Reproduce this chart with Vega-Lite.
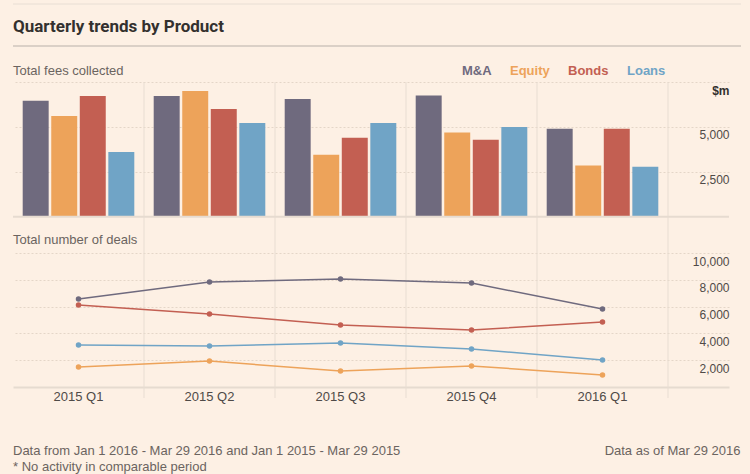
{
  "$schema": "https://vega.github.io/schema/vega-lite/v6.json",
  "background": "#fdf0e4",
  "padding": {"left": 12, "top": 3, "right": 10, "bottom": 2},
  "spacing": 0,
  "bounds": "flush",
  "config": {
    "view": {"stroke": null},
    "font": "Liberation Sans",
    "axis": {"labelFont": "Liberation Sans", "titleFont": "Liberation Sans"}
  },
  "resolve": {"scale": {"color": "independent", "x": "independent", "y": "independent"}, "legend": {"color": "independent"}},
  "datasets": {
    "quarters": [
      {"q": "2015 Q1"}, {"q": "2015 Q2"}, {"q": "2015 Q3"}, {"q": "2015 Q4"}, {"q": "2016 Q1"}
    ],
    "fees": [
      {"q": "2015 Q1", "p": "M&A", "v": 6450},
      {"q": "2015 Q1", "p": "Equity", "v": 5600},
      {"q": "2015 Q1", "p": "Bonds", "v": 6720},
      {"q": "2015 Q1", "p": "Loans", "v": 3600},
      {"q": "2015 Q2", "p": "M&A", "v": 6720},
      {"q": "2015 Q2", "p": "Equity", "v": 7000},
      {"q": "2015 Q2", "p": "Bonds", "v": 6000},
      {"q": "2015 Q2", "p": "Loans", "v": 5220},
      {"q": "2015 Q3", "p": "M&A", "v": 6560},
      {"q": "2015 Q3", "p": "Equity", "v": 3450},
      {"q": "2015 Q3", "p": "Bonds", "v": 4390},
      {"q": "2015 Q3", "p": "Loans", "v": 5220},
      {"q": "2015 Q4", "p": "M&A", "v": 6750},
      {"q": "2015 Q4", "p": "Equity", "v": 4690},
      {"q": "2015 Q4", "p": "Bonds", "v": 4280},
      {"q": "2015 Q4", "p": "Loans", "v": 5000},
      {"q": "2016 Q1", "p": "M&A", "v": 4890},
      {"q": "2016 Q1", "p": "Equity", "v": 2850},
      {"q": "2016 Q1", "p": "Bonds", "v": 4890},
      {"q": "2016 Q1", "p": "Loans", "v": 2780}
    ],
    "deals": [
      {"q": "2015 Q1", "p": "M&A", "v": 6570},
      {"q": "2015 Q2", "p": "M&A", "v": 7840},
      {"q": "2015 Q3", "p": "M&A", "v": 8060},
      {"q": "2015 Q4", "p": "M&A", "v": 7760},
      {"q": "2016 Q1", "p": "M&A", "v": 5820},
      {"q": "2015 Q1", "p": "Equity", "v": 1490},
      {"q": "2015 Q2", "p": "Equity", "v": 1940},
      {"q": "2015 Q3", "p": "Equity", "v": 1190},
      {"q": "2015 Q4", "p": "Equity", "v": 1570},
      {"q": "2016 Q1", "p": "Equity", "v": 900},
      {"q": "2015 Q1", "p": "Bonds", "v": 6120},
      {"q": "2015 Q2", "p": "Bonds", "v": 5450},
      {"q": "2015 Q3", "p": "Bonds", "v": 4630},
      {"q": "2015 Q4", "p": "Bonds", "v": 4250},
      {"q": "2016 Q1", "p": "Bonds", "v": 4850},
      {"q": "2015 Q1", "p": "Loans", "v": 3130},
      {"q": "2015 Q2", "p": "Loans", "v": 3060},
      {"q": "2015 Q3", "p": "Loans", "v": 3280},
      {"q": "2015 Q4", "p": "Loans", "v": 2840},
      {"q": "2016 Q1", "p": "Loans", "v": 2020}
    ],
    "label": [{"q": "2015 Q1", "t": "Total number of deals"}]
  },
  "vconcat": [
    {
      "width": 728,
      "height": 54,
      "title": {"text": "Quarterly trends by Product", "anchor": "start", "frame": "group", "orient": "top", "offset": -32, "font": "Roboto", "fontSize": 17, "fontWeight": "bold", "color": "#33302e"},
      "data": {"values": [{}]},
      "layer": [
        {"mark": {"type": "rule", "color": "#e8ded4", "strokeWidth": 1}, "encoding": {"y": {"datum": 78, "type": "quantitative", "scale": {"domain": [0, 54], "nice": false, "zero": false}, "axis": null}}},
        {"mark": {"type": "rule", "color": "#b8b0a9", "strokeWidth": 1}, "encoding": {"y": {"datum": 36, "type": "quantitative", "axis": null}}}
      ]
    },
    {
      "width": 716,
      "height": 167,
      "title": {"text": "Total fees collected", "anchor": "start", "frame": "group", "orient": "top", "offset": -14, "font": "Liberation Sans", "fontSize": 13, "fontWeight": "normal", "color": "#6b6460"},
      "layer": [
        {
          "data": {"name": "quarters"},
          "mark": {"type": "rule", "color": "#e8ddd2", "strokeWidth": 1},
          "encoding": {
            "x": {"field": "q", "type": "nominal", "bandPosition": 1, "scale": {"type": "band", "domain": ["2015 Q1", "2015 Q2", "2015 Q3", "2015 Q4", "2016 Q1"], "paddingInner": 0, "paddingOuter": 0.2328, "align": 0}, "axis": null}
          }
        },
        {
          "data": {"name": "fees"},
          "mark": {"type": "bar"},
          "encoding": {
            "x": {"field": "q", "type": "nominal", "axis": null},
            "xOffset": {"field": "p", "type": "nominal", "scale": {"domain": ["M&A", "Equity", "Bonds", "Loans"], "paddingInner": 0.09, "paddingOuter": 0.34}},
            "y": {
              "field": "v", "type": "quantitative",
              "scale": {"domain": [-1800, 7500], "nice": false, "zero": false},
              "axis": {
                "orient": "right", "values": [2500, 5000, 7500], "title": null,
                "labelExpr": "datum.value == 7500 ? '$m' : format(datum.value, ',')",
                "labelFontWeight": {"condition": {"test": "datum.value == 7500", "value": "bold"}, "value": "normal"},
                "labelColor": {"condition": {"test": "datum.value == 7500", "value": "#33302e"}, "value": "#4f4a47"},
                "labelFontSize": 12, "labelAlign": "right", "labelBaseline": "top", "labelPadding": 0, "labelOffset": 3,
                "ticks": false, "tickSize": 0, "domain": false,
                "grid": true, "gridDash": [2, 2], "gridColor": "#e4d6c8", "gridWidth": 1
              }
            },
            "color": {
              "field": "p", "type": "nominal",
              "scale": {"domain": ["M&A", "Equity", "Bonds", "Loans"], "range": ["#6f6a7e", "#eda35a", "#c35f52", "#70a4c6"]},
              "legend": {
                "orient": "none", "legendX": 436, "legendY": -18, "direction": "horizontal", "title": null,
                "symbolSize": 0, "symbolOpacity": 0, "symbolStrokeWidth": 0, "labelOffset": 0, "columnPadding": 5, "padding": 0,
                "labelFont": "Liberation Sans", "labelFontSize": 13, "labelFontWeight": "bold",
                "encode": {"labels": {"update": {"fill": {"signal": "datum.value == 'M&A' ? '#6f6a7e' : datum.value == 'Equity' ? '#eda35a' : datum.value == 'Bonds' ? '#c35f52' : '#70a4c6'"}}}}
              }
            }
          }
        },
        {
          "data": {"values": [{}]},
          "mark": {"type": "rule", "color": "#e6dbd0", "strokeWidth": 2},
          "encoding": {"y": {"datum": 0, "type": "quantitative"}}
        },
        {
          "data": {"name": "label"},
          "mark": {"type": "text", "align": "left", "baseline": "middle", "font": "Liberation Sans", "fontSize": 13, "color": "#6b6460"},
          "encoding": {
            "x": {"field": "q", "type": "nominal", "bandPosition": 0, "axis": null},
            "y": {"datum": -1300, "type": "quantitative"},
            "text": {"field": "t"}
          }
        }
      ]
    },
    {
      "width": 716,
      "height": 138,
      "title": {"text": ["Data from Jan 1 2016 - Mar 29 2016 and Jan 1 2015 - Mar 29 2015", "* No activity in comparable period"], "orient": "bottom", "anchor": "start", "frame": "group", "offset": -12, "font": "Liberation Sans", "fontSize": 13, "fontWeight": "normal", "color": "#6b6460", "lineHeight": 16},
      "layer": [
        {
          "data": {"name": "quarters"},
          "mark": {"type": "rule", "color": "#e8ddd2", "strokeWidth": 1},
          "encoding": {
            "x": {"field": "q", "type": "nominal", "bandPosition": 1, "scale": {"type": "band", "domain": ["2015 Q1", "2015 Q2", "2015 Q3", "2015 Q4", "2016 Q1"], "paddingInner": 0, "paddingOuter": 0.2328, "align": 0},
              "axis": {"orient": "bottom", "title": "Data as of Mar 29 2016", "titleAnchor": "end", "titleAlign": "right", "titleX": 727, "titlePadding": 41, "titleFont": "Liberation Sans", "titleFontSize": 13, "titleFontWeight": "normal", "titleColor": "#6b6460", "titleBaseline": "top", "labelFontSize": 13, "labelColor": "#4f4a47", "labelPadding": 3, "labelAngle": 0, "ticks": false, "domainColor": "#e6dbd0", "domainWidth": 2, "grid": false}},
            "y": {"datum": -820, "type": "quantitative", "scale": {"domain": [0, 10300], "nice": false, "zero": false},
              "axis": {"orient": "right", "values": [2000, 4000, 6000, 8000, 10000], "labelExpr": "format(datum.value, ',')", "title": null, "labelFontSize": 12, "labelColor": "#4f4a47", "labelAlign": "right", "labelBaseline": "top", "labelPadding": 0, "labelOffset": 3, "ticks": false, "tickSize": 0, "domain": false, "grid": true, "gridDash": [2, 2], "gridColor": "#e4d6c8", "gridWidth": 1}},
            "y2": {"datum": 10300}
          }
        },
        {
          "data": {"name": "deals"},
          "mark": {"type": "line", "strokeWidth": 1.5, "point": {"filled": true, "size": 30, "opacity": 1}},
          "encoding": {
            "x": {"field": "q", "type": "nominal",
              "axis": {"orient": "bottom", "title": "Data as of Mar 29 2016", "titleAnchor": "end", "titleAlign": "right", "titleX": 727, "titlePadding": 41, "titleFont": "Liberation Sans", "titleFontSize": 13, "titleFontWeight": "normal", "titleColor": "#6b6460", "titleBaseline": "top", "labelFontSize": 13, "labelColor": "#4f4a47", "labelPadding": 3, "labelAngle": 0, "ticks": false, "domainColor": "#e6dbd0", "domainWidth": 2, "grid": false}},
            "y": {"field": "v", "type": "quantitative",
              "axis": {"orient": "right", "values": [2000, 4000, 6000, 8000, 10000], "labelExpr": "format(datum.value, ',')", "title": null, "labelFontSize": 12, "labelColor": "#4f4a47", "labelAlign": "right", "labelBaseline": "top", "labelPadding": 0, "labelOffset": 3, "ticks": false, "tickSize": 0, "domain": false, "grid": true, "gridDash": [2, 2], "gridColor": "#e4d6c8", "gridWidth": 1}},
            "color": {"field": "p", "type": "nominal", "scale": {"domain": ["M&A", "Equity", "Bonds", "Loans"], "range": ["#6f6a7e", "#eda35a", "#c35f52", "#70a4c6"]}, "legend": null}
          }
        }
      ]
    }
  ]
}
